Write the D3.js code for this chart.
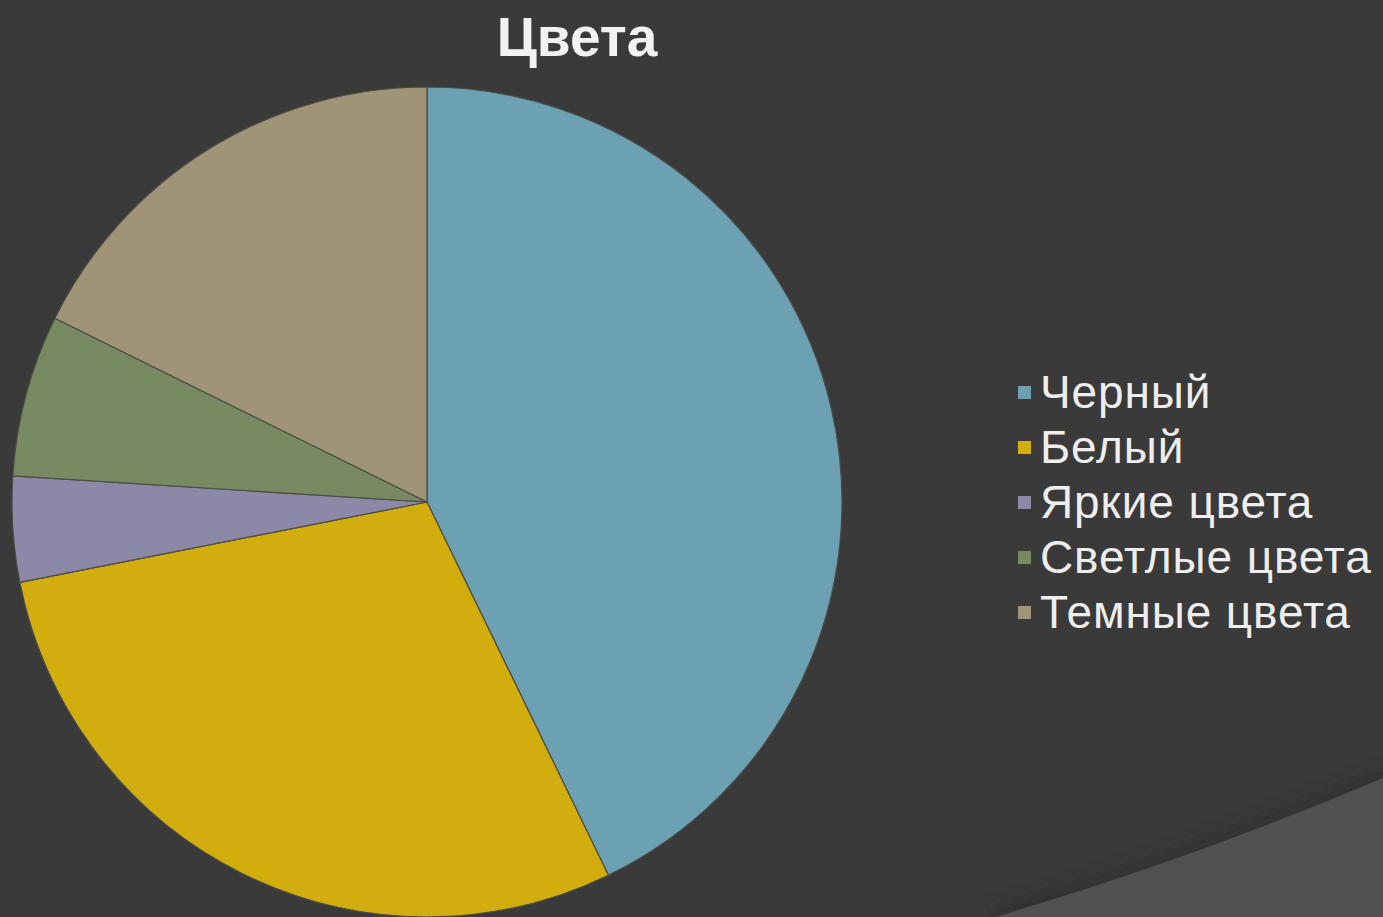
<!DOCTYPE html>
<html>
<head>
<meta charset="utf-8">
<script src="https://cdn.jsdelivr.net/npm/d3@7"></script>
<style>
  html, body { margin: 0; padding: 0; background: #3a3a3a; overflow: hidden; }
  svg { display: block; }
</style>
</head>
<body>
<svg id="chart" width="1383" height="917"></svg>
<script>
// Share of each colour group (percent)
const categories = ["Черный", "Белый", "Яркие цвета", "Светлые цвета", "Темные цвета"];
const values = [42.8, 29.1, 4.1, 6.3, 17.7];
const colors = ["#6ca1b3", "#d1ae0d", "#8c88a8", "#778a62", "#a09478"];
const title = "Цвета";

const W = 1383, H = 917;
const svg = d3.select("#chart");

// Background with the lighter swoosh in the lower right corner
const defs = svg.append("defs");
const blur = defs.append("filter").attr("id", "soft").attr("x", "-20%").attr("y", "-20%").attr("width", "140%").attr("height", "140%");
blur.append("feGaussianBlur").attr("stdDeviation", 9);

svg.append("rect").attr("width", W).attr("height", H).attr("fill", "#3a3a3a");

const swoosh = "M 995 917 Q 1190 860 1383 778 L 1383 917 Z";
svg.append("path").attr("d", swoosh)
  .attr("fill", "none").attr("stroke", "#262626").attr("stroke-width", 14)
  .attr("opacity", 0.55).attr("filter", "url(#soft)");
svg.append("path").attr("d", swoosh).attr("fill", "#515151");

// Title
svg.append("text")
  .attr("x", 577).attr("y", 56)
  .attr("text-anchor", "middle")
  .attr("font-family", "'Liberation Sans', Arial, sans-serif")
  .attr("font-weight", "bold")
  .attr("font-size", 55)
  .attr("fill", "#f2f2f2")
  .text(title);

// Pie
const cx = 427, cy = 502, r = 415;
const data = categories.map((c, i) => ({ name: c, value: values[i], color: colors[i] }));
const pie = d3.pie().value(d => d.value).sort(null);
const arc = d3.arc().innerRadius(0).outerRadius(r);

const g = svg.append("g").attr("transform", `translate(${cx},${cy})`);
g.selectAll("path.slice")
  .data(pie(data))
  .join("path")
  .attr("class", "slice")
  .attr("d", arc)
  .attr("fill", d => d.data.color)
  .attr("stroke", "#4b4b42")
  .attr("stroke-width", 1.2)
  .attr("stroke-linejoin", "round");

// Legend
const legend = svg.append("g").attr("transform", "translate(1018,408)");
const rowH = 55;
const items = legend.selectAll("g.item")
  .data(data)
  .join("g")
  .attr("class", "item")
  .attr("transform", (d, i) => `translate(0,${i * rowH})`);
items.append("rect")
  .attr("x", 0).attr("y", -22)
  .attr("width", 13).attr("height", 13)
  .attr("fill", d => d.color);
items.append("text")
  .attr("x", 22).attr("y", 0)
  .attr("font-family", "'Liberation Sans', Arial, sans-serif")
  .attr("font-size", 46)
  .attr("letter-spacing", 0.9)
  .attr("fill", "#eeeeee")
  .text(d => d.name);
</script>
</body>
</html>
